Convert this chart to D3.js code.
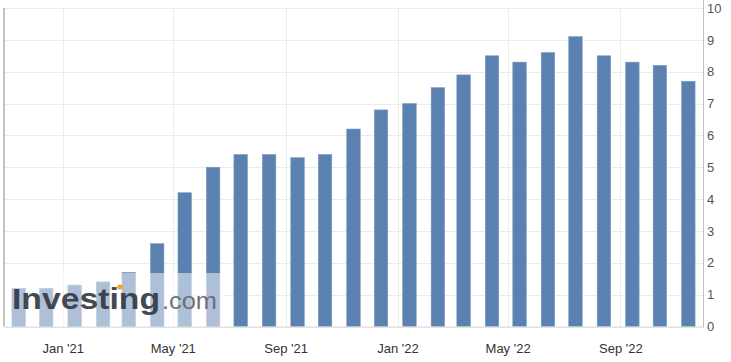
<!DOCTYPE html>
<html>
<head>
<meta charset="utf-8">
<script src="https://cdn.jsdelivr.net/npm/d3@7"></script>
<style>
  body { margin: 0; background: #fff; }
  svg { display: block; font-family: Arial, "Liberation Sans", sans-serif; }
  .axis text { font-size: 13px; }
  .axis path, .axis line { stroke: none; }
</style>
</head>
<body>
<div id="chart"></div>
<script>
// release months (bars sit mid-month) and the yearly rate
const months = ["2020-11","2020-12","2021-01","2021-02","2021-03","2021-04","2021-05","2021-06",
  "2021-07","2021-08","2021-09","2021-10","2021-11","2021-12","2022-01","2022-02","2022-03",
  "2022-04","2022-05","2022-06","2022-07","2022-08","2022-09","2022-10","2022-11"];
const values = [1.2, 1.2, 1.3, 1.4, 1.7, 2.6, 4.2, 5.0, 5.4, 5.4, 5.3, 5.4, 6.2,
  6.8, 7.0, 7.5, 7.9, 8.5, 8.3, 8.6, 9.1, 8.5, 8.3, 8.2, 7.7];
const tickMonths = ["2021-01","2021-05","2021-09","2022-01","2022-05","2022-09"];
const tickLabels = ["Jan '21","May '21","Sep '21","Jan '22","May '22","Sep '22"];
const yTicks = [0,1,2,3,4,5,6,7,8,9,10];

const width = 731, height = 362;
const margin = {top: 8, right: 28, bottom: 35.5, left: 4};

const parseMonth = d3.timeParse("%Y-%m");
const data = months.map((m, i) => {
  const d = parseMonth(m);
  d.setDate(14);
  return {date: d, value: values[i]};
});
const tickDates = tickMonths.map(parseMonth);

const xscale = d3.scaleTime()
  .domain([new Date(2020, 9, 29), new Date(2022, 10, 30)])
  .range([margin.left, width - margin.right]);
const yscale = d3.scaleLinear()
  .domain([0, 10])
  .range([height - margin.bottom, margin.top]);
const barWidth = 13.5;

const svg = d3.select("#chart").append("svg")
  .attr("width", width)
  .attr("height", height);

// grid
svg.append("g")
  .selectAll("line")
  .data(yTicks)
  .join("line")
  .attr("x1", margin.left).attr("x2", width - margin.right)
  .attr("y1", d => Math.round(yscale(d)) + 0.5).attr("y2", d => Math.round(yscale(d)) + 0.5)
  .attr("stroke", "#ececec");
svg.append("g")
  .selectAll("line")
  .data(tickDates)
  .join("line")
  .attr("x1", d => Math.round(xscale(d)) + 0.5).attr("x2", d => Math.round(xscale(d)) + 0.5)
  .attr("y1", margin.top).attr("y2", height - margin.bottom)
  .attr("stroke", "#ececec");

// bars
svg.append("g")
  .selectAll("rect")
  .data(data)
  .join("rect")
  .attr("x", d => xscale(d.date) - barWidth / 2)
  .attr("y", d => yscale(d.value))
  .attr("width", barWidth)
  .attr("height", d => yscale(0) - yscale(d.value))
  .attr("fill", "#5b81b0")
  .attr("stroke", "#7d9bc2")
  .attr("stroke-width", 0.6);

// frame lines
svg.append("line")
  .attr("x1", margin.left).attr("x2", margin.left)
  .attr("y1", margin.top).attr("y2", yscale(0))
  .attr("stroke", "#c4c4c4").attr("stroke-width", 2);
svg.append("line")
  .attr("x1", margin.left).attr("x2", width - margin.right)
  .attr("y1", yscale(0) + 0.5).attr("y2", yscale(0) + 0.5)
  .attr("stroke", "#d8d8d8");
svg.append("line")
  .attr("x1", width - margin.right + 0.5).attr("x2", width - margin.right + 0.5)
  .attr("y1", 0).attr("y2", yscale(0) + 1)
  .attr("stroke", "#c0c0c0");

// axes
svg.append("g")
  .attr("class", "axis")
  .attr("transform", `translate(${width - margin.right},0)`)
  .call(d3.axisRight(yscale).tickValues(yTicks).tickSize(0).tickPadding(4))
  .selectAll("text").attr("fill", "#555").attr("font-size", 14);
svg.append("g")
  .attr("class", "axis")
  .attr("transform", `translate(0,${yscale(0)})`)
  .call(d3.axisBottom(xscale).tickValues(tickDates).tickSize(0).tickPadding(17)
    .tickFormat((d, i) => tickLabels[i]))
  .selectAll("text").attr("fill", "#333");

// watermark
const wm = svg.append("g");
wm.append("rect")
  .attr("x", 5).attr("y", 273)
  .attr("width", 220).attr("height", yscale(0) - 273)
  .attr("fill", "#fff").attr("opacity", 0.5);
wm.append("text")
  .attr("x", 12).attr("y", 309)
  .attr("font-size", 30).attr("font-weight", "bold")
  .attr("textLength", 148).attr("lengthAdjust", "spacingAndGlyphs")
  .attr("fill", "#34363e").attr("opacity", 0.9)
  .text("Investing");
wm.append("text")
  .attr("x", 162).attr("y", 309)
  .attr("font-size", 23)
  .attr("textLength", 55).attr("lengthAdjust", "spacingAndGlyphs")
  .attr("fill", "#666").attr("opacity", 0.9)
  .text(".com");
wm.append("ellipse")
  .attr("cx", 120).attr("cy", 287)
  .attr("rx", 3).attr("ry", 2.5)
  .attr("fill", "#f5a623");
</script>
</body>
</html>
